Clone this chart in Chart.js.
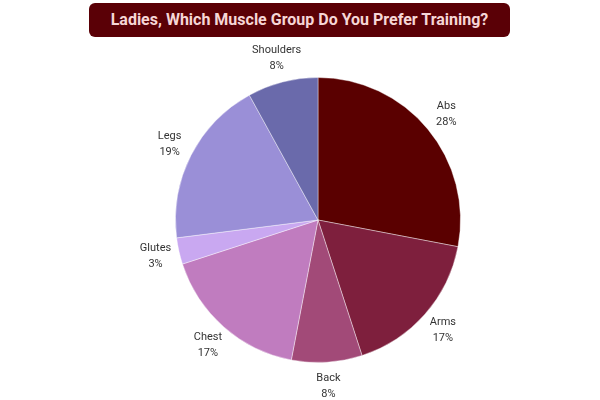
<!DOCTYPE html>
<html>
  <head>
    <title>Muscle Group Preference</title>
    <script src="https://cdn.jsdelivr.net/npm/chart.js@4/dist/chart.umd.min.js"></script>
    <style>
      body { margin: 0; background: #ffffff; }
      .wrap { position: relative; width: 600px; height: 400px; }
      .titleBox {
        position: absolute; left: 89px; top: 3px; width: 421px; height: 34px;
        background: #5a0006; border-radius: 6px;
        color: #f6d6d6; font-family: Roboto, sans-serif; font-weight: bold; font-size: 16px;
        line-height: 34px; text-align: center;
      }
    </style>
  </head>
  <body>
    <div class="wrap">
      <canvas id="pie" width="600" height="400"></canvas>
      <div class="titleBox">Ladies, Which Muscle Group Do You Prefer Training?</div>
    </div>
    <script>
      // data
      const groups = ['Abs', 'Arms', 'Back', 'Chest', 'Glutes', 'Legs', 'Shoulders'];
      const percents = [28, 17, 8, 17, 3, 19, 8];
      const sliceColors = ['#5a0000', '#7e1f3d', '#a24a78', '#c07cbf', '#c9a8f1', '#9a8fd7', '#6a6aab'];

      // labels outside the slices, two lines: name + percent
      const outsideLabels = {
        id: 'outsideLabels',
        afterDatasetsDraw(chart) {
          const ctx = chart.ctx;
          const meta = chart.getDatasetMeta(0);
          ctx.save();
          ctx.font = '11px Roboto, sans-serif';
          ctx.fillStyle = '#333333';
          ctx.textAlign = 'center';
          ctx.textBaseline = 'middle';
          meta.data.forEach((arc, i) => {
            const mid = (arc.startAngle + arc.endAngle) / 2;
            const r = arc.outerRadius + 24;
            const x = arc.x + Math.cos(mid) * r;
            const y = arc.y + Math.sin(mid) * r;
            ctx.fillText(groups[i], x, y - 8);
            ctx.fillText(percents[i] + '%', x, y + 8);
          });
          ctx.restore();
        }
      };

      const pieChart = new Chart(document.getElementById('pie'), {
        type: 'pie',
        data: {
          labels: groups,
          datasets: [{
            data: percents,
            backgroundColor: sliceColors,
            borderColor: 'rgba(255,255,255,0.4)',
            borderWidth: 1
          }]
        },
        options: {
          responsive: false,
          animation: false,
          layout: { padding: { top: 77, bottom: 37, left: 175, right: 139 } },
          plugins: {
            legend: { display: false },
            tooltip: { enabled: false }
          }
        },
        plugins: [outsideLabels]
      });
    </script>
  </body>
</html>
